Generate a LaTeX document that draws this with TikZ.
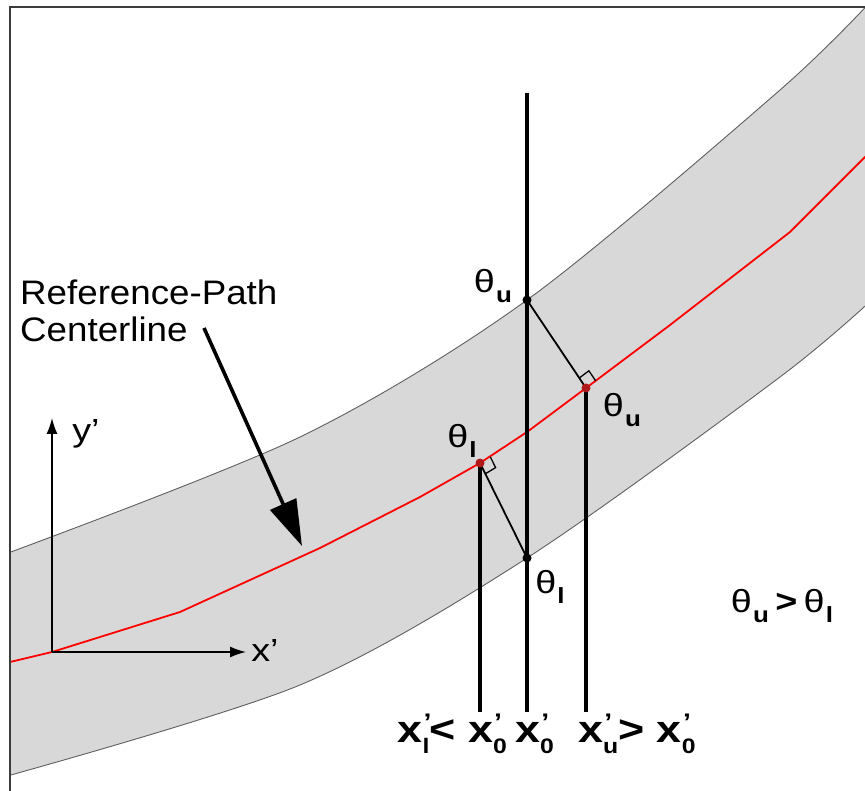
\documentclass[tikz,border=0pt]{standalone}
\usepackage{fontspec}
\setmainfont{Liberation Sans}
\usetikzlibrary{arrows.meta,calc}
\definecolor{bandgray}{RGB}{216,216,216}
\definecolor{edgegray}{RGB}{95,95,95}
\definecolor{framegray}{RGB}{60,60,60}
\definecolor{dotred}{RGB}{175,25,25}
\newcommand{\thx}[1]{θ\kern1pt\raisebox{-0.32em}{\fontsize{22}{22}\selectfont\bfseries #1}}
\newcommand{\xpr}[1]{x\makebox[0pt][l]{\kern1pt\raisebox{0.3em}{\fontsize{24}{24}\selectfont '}}\raisebox{-0.3em}{\fontsize{21}{21}\selectfont #1}}
\newcommand{\wide}[1]{\scalebox{1.18}[1]{#1}}
\begin{document}
\begin{tikzpicture}[x=1pt, y=-1pt,
  every node/.style={font=\fontsize{32}{37}\selectfont, inner sep=0pt},
  botlbl/.style={font=\bfseries\fontsize{38}{44}\selectfont},
  vline/.style={line width=3.6pt},
  conn/.style={line width=1.8pt},
  bandedge/.style={draw=edgegray, line width=0.9pt},
  axis/.style={line width=1.5pt, -{Latex[length=16pt,width=11pt]}}]
  \useasboundingbox (0,0) rectangle (865,791);
  \begin{scope}
    \clip (10,7) rectangle (865,791);
    % band and its edges, centerline in red
    \fill[bandgray] plot[smooth] coordinates {(0,556) (300,437) (527,300) (780,90) (875,-3)}
      -- plot[smooth] coordinates {(875,297) (780,377) (527,558) (300,685) (0,778)} -- cycle;
    \draw[bandedge] plot[smooth] coordinates {(0,556) (300,437) (527,300) (780,90) (875,-3)};
    \draw[bandedge] plot[smooth] coordinates {(875,297) (780,377) (527,558) (300,685) (0,778)};
    \draw[red, line width=1.8pt] (0,665) -- (10,662) -- (52,652) -- (180,612) -- (320,548) -- (420,497) -- (480,463) -- (527,432) -- (586,388) -- (670,325) -- (790,232) -- (865,157) -- (875,149);
  \end{scope}
  \draw[framegray, line width=2.5pt] (10,791) -- (10,7) -- (865,7);

  \coordinate (ou) at (527,300);
  \coordinate (ol) at (527,558);
  \coordinate (cu) at (586,388);
  \coordinate (cl) at (480,463);
  \coordinate (vtop) at (527,93);
  \coordinate (b0) at (527,712);
  \coordinate (bl) at (480,712);
  \coordinate (bu) at (586,712);
  \draw[vline] (vtop) -- (b0);
  \draw[vline] (cl) -- (bl);
  \draw[vline] (cu) -- (bu);
  \draw[conn] (ou) -- (cu);
  \draw[conn] (cl) -- (ol);
  % right-angle marks
  \draw[line width=1.3pt] ($(cu)+(9.6,-7.2)$) -- ++(-6.7,-10) -- ++(-9.6,7.2);
  \draw[line width=1.3pt] ($(cl)+(10.3,-6.2)$) -- ++(5.3,10.8) -- ++(-10.3,6.2);
  \fill (ou) circle (4.5pt); \fill (ol) circle (4.5pt);
  \fill[dotred] (cu) circle (4.5pt); \fill[dotred] (cl) circle (4.5pt);

  \node (thuA) at (493,286) {\wide{\thx{u}}};
  \node (thuB) at (622,410) {\wide{\thx{u}}};
  \node (thlA) at (462,441) {\wide{\thx{l}}};
  \node (thlB) at (550,587) {\wide{\thx{l}}};
  \node (cmp) at (782,606) {\wide{\thx{u}\,\textbf{>}\,\thx{l}}};

  \node[anchor=north west, align=left, font=\fontsize{34}{37}\selectfont] (reftxt) at (20,280) {\scalebox{1.08}[1]{Reference-Path}\\\scalebox{1.08}[1]{Centerline}};
  \coordinate (atail) at (204,328);
  \coordinate (ahead) at (302,546);
  \draw[line width=3.6pt, -{Triangle[length=46pt,width=28pt]}] (atail) -- (ahead);

  % local axes
  \coordinate (orig) at (52,652);
  \coordinate (ytip) at (52,418);
  \coordinate (xtip) at (246,652);
  \draw[axis] (orig) -- (ytip);
  \draw[axis] (orig) -- (xtip);
  \node (ylab) at (86,434) {\wide{y'}};
  \node (xlab) at (265,650) {\wide{x'}};

  \node[botlbl, anchor=base east] (xlt) at (507,742) {\wide{\xpr{l}< \xpr{0}}};
  \node[botlbl, anchor=base west] (xeq) at (515,742) {\wide{\xpr{0}}};
  \node[botlbl, anchor=base west] (xgt) at (578,742) {\wide{\xpr{u}> \xpr{0}}};
\end{tikzpicture}
\end{document}
